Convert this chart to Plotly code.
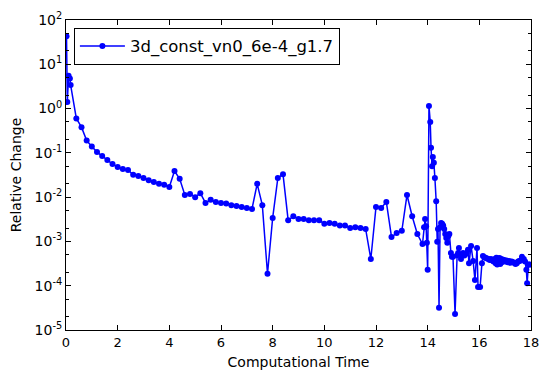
import plotly.graph_objects as go

series_name = "3d_const_vn0_6e-4_g1.7"

t_main = [0.02, 0.05, 0.1, 0.15, 0.18, 0.4, 0.6, 0.8, 1.0, 1.2, 1.4, 1.6, 1.8, 2.0, 2.2, 2.4,
          2.6, 2.8, 3.0, 3.2, 3.4, 3.6, 3.8, 4.0, 4.2, 4.4, 4.6, 4.8, 5.0, 5.2, 5.4, 5.6,
          5.8, 6.0, 6.2, 6.4, 6.6, 6.8, 7.0, 7.2, 7.4, 7.6, 7.8, 8.0, 8.2, 8.4, 8.6, 8.8,
          9.0, 9.2, 9.4, 9.6, 9.8, 10.0, 10.2, 10.4, 10.6, 10.8, 11.0, 11.2, 11.4, 11.6,
          11.8, 12.0, 12.2, 12.4, 12.6, 12.8, 13.0, 13.2, 13.4, 13.6, 13.8]
v_main = [43.0, 1.4, 5.5, 4.8, 3.4, 0.6, 0.38, 0.19, 0.14, 0.104, 0.085, 0.069, 0.056, 0.048,
          0.043, 0.041, 0.032, 0.030, 0.027, 0.024, 0.022, 0.020, 0.019, 0.017, 0.039, 0.026,
          0.0112, 0.0118, 0.0100, 0.0123, 0.0074, 0.0087, 0.0078, 0.0074, 0.0072, 0.0066,
          0.0063, 0.0060, 0.0057, 0.0054, 0.020, 0.0066, 0.000186, 0.0034, 0.027, 0.033,
          0.0030, 0.0037, 0.0032, 0.0032, 0.0030, 0.0030, 0.0030, 0.0025, 0.0026, 0.0025,
          0.0023, 0.0023, 0.0020, 0.0021, 0.0020, 0.0019, 0.00040, 0.0060, 0.0057, 0.0078,
          0.00126, 0.00154, 0.00174, 0.0112, 0.0037, 0.00147, 0.00087]

t_burst = [13.86, 13.9, 13.94, 13.97, 14.0, 14.05, 14.1, 14.13, 14.17, 14.2, 14.24, 14.28,
           14.33, 14.37, 14.4, 14.44, 14.48, 14.52, 14.56, 14.6, 14.64, 14.68, 14.72, 14.76,
           14.8, 14.84, 14.9, 14.94, 14.98, 15.06, 15.14, 15.18, 15.21, 15.29, 15.33, 15.37,
           15.42, 15.47, 15.52, 15.56, 15.6, 15.68, 15.76, 15.83, 15.91, 15.95, 16.03, 16.1]
v_burst = [0.0021, 0.0032, 0.0022, 0.00093, 0.00023, 1.15, 0.5, 0.13, 0.05, 0.081, 0.06,
           0.027, 0.0081, 0.00098, 0.0019, 3.2e-5, 0.0021, 0.0026, 0.0025, 0.0023, 0.0019,
           0.00148, 0.0012, 0.00093, 0.00133, 0.00148, 0.00055, 0.00045, 0.00045, 2.3e-5,
           0.00049, 0.00055, 0.00071, 0.0004, 0.00050, 0.00055, 0.00048, 0.00052, 0.00055,
           0.00065, 0.00032, 0.00079, 0.00036, 0.000135, 0.00071, 9.3e-5, 9.3e-5, 0.00032]

t_tail = [16.14, 16.2, 16.25, 16.3, 16.35, 16.4, 16.45, 16.5, 16.55, 16.6, 16.63, 16.66,
          16.69, 16.72, 16.75, 16.78, 16.81, 16.84, 16.87, 16.9, 16.93, 16.96, 17.0, 17.05,
          17.1, 17.15, 17.2, 17.25, 17.3, 17.35, 17.4, 17.45, 17.5, 17.55, 17.6, 17.65,
          17.72, 17.77, 17.82, 17.85, 17.9, 17.95]
v_tail = [0.00047, 0.00044, 0.00042, 0.00041, 0.00040, 0.00038, 0.00040, 0.00037, 0.00035,
          0.00040, 0.00032, 0.00043, 0.00030, 0.00041, 0.00033, 0.00042, 0.00031, 0.00040,
          0.00034, 0.00039, 0.00036, 0.00038, 0.00035, 0.00037, 0.00034, 0.00036, 0.00033,
          0.00035, 0.00034, 0.00033, 0.00031, 0.00032, 0.00035, 0.00036, 0.00037, 0.00045,
          0.00040, 0.00035, 0.00023, 0.000114, 0.00030, 0.00030]

t_all = t_main + t_burst + t_tail
v_all = v_main + v_burst + v_tail

x_ticks = [0, 2, 4, 6, 8, 10, 12, 14, 16, 18]
y_tick_vals = [1e2, 1e1, 1e0, 1e-1, 1e-2, 1e-3, 1e-4, 1e-5]
y_tick_text = ["10<sup>2</sup>", "10<sup>1</sup>", "10<sup>0</sup>", "10<sup>-1</sup>",
               "10<sup>-2</sup>", "10<sup>-3</sup>", "10<sup>-4</sup>", "10<sup>-5</sup>"]

fig = go.Figure()
fig.add_trace(go.Scatter(
    x=t_all, y=v_all, mode="lines+markers", name=series_name,
    line=dict(color="#0000ff", width=1.5),
    marker=dict(color="#0000ff", size=6, line=dict(width=0)),
))

fig.update_layout(
    width=549, height=380,
    margin=dict(l=58, r=26, t=12, b=58),
    paper_bgcolor="white", plot_bgcolor="white",
    font=dict(family="DejaVu Sans", size=13, color="black"),
    showlegend=True,
    legend=dict(x=0.017, y=0.975, xanchor="left", yanchor="top",
                bordercolor="black", borderwidth=1, bgcolor="white",
                font=dict(size=16.5), itemwidth=45),
    xaxis=dict(range=[0, 18], tickvals=x_ticks, ticks="inside", ticklen=5,
               tickcolor="black", showline=True, linecolor="black", linewidth=1,
               mirror="ticks", showgrid=False, zeroline=False, automargin=False,
               tickfont=dict(size=13),
               title=dict(text="Computational Time", font=dict(size=14), standoff=8)),
    yaxis=dict(type="log", range=[-5, 2], tickvals=y_tick_vals, ticktext=y_tick_text,
               ticks="inside", ticklen=5, tickcolor="black", showline=True,
               linecolor="black", linewidth=1, mirror="ticks", showgrid=False,
               zeroline=False, automargin=False, tickfont=dict(size=14),
               minor=dict(ticks="inside", ticklen=3, tickcolor="black", showgrid=False),
               title=dict(text="Relative Change", font=dict(size=14), standoff=10)),
)

fig.write_html("out.html")
